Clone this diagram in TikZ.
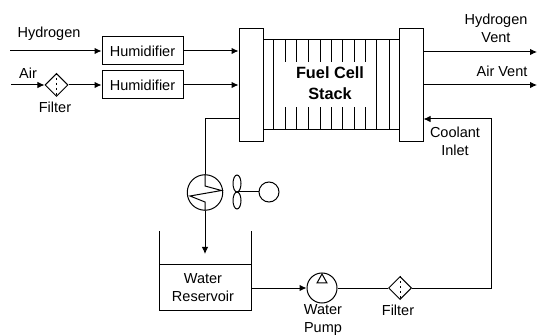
\documentclass[tikz,border=0pt]{standalone}
\usepackage{fontspec}
\setmainfont{Liberation Sans}
\usetikzlibrary{positioning}
\usetikzlibrary{shapes.geometric}
\usetikzlibrary{arrows.meta}
\tikzset{
	every node/.style = {font=\fontsize{14.5}{18}\selectfont, align=center, inner sep=0pt},
	boxnode/.style = {draw, rectangle, inner sep=0pt},
	flow/.style = {draw, -{Latex[length=7pt,width=6.5pt]}},
	pipe/.style = {draw},
	filternode/.style = {draw, diamond, minimum size=23pt, inner sep=0pt},
	filtermark/.style = {dash pattern=on 2pt off 3pt}
}

\begin{document}
\begin{tikzpicture}[x=1pt, y=-1pt, line width=1pt]
		\useasboundingbox (0,0) rectangle (540,336);
		% stack plates
		\node[boxnode, minimum width=24pt, minimum height=113pt] (plateL) at (251,85.5) {};
		\node[boxnode, minimum width=24pt, minimum height=113pt] (plateR) at (411,85.5) {};
		% stack body
		\draw (263,40) -- (399,40) (263,130) -- (399,130);
		\foreach \x in {273.5,376.5,389} {
			\draw (\x,40) -- (\x,130);
		}
		\foreach \x in {285,296.5,308,320,331,342.5,354,365.5} {
			\draw (\x,40) -- (\x,62) (\x,107.5) -- (\x,130);
		}
		\node[font=\fontsize{16.3}{21}\selectfont\bfseries] (stack) at (330,83.5) {Fuel Cell\\Stack};
		% inlets
		\node[boxnode, minimum width=81pt, minimum height=28pt] (humA) at (142.5,51) {Humidifier};
		\node[boxnode, minimum width=81pt, minimum height=28pt] (humB) at (142.5,85) {Humidifier};
		\node[filternode] (filterA) at (56.5,85) {};
		\draw[filtermark] (filterA.north) -- (filterA.south);
		\coordinate (inH) at (10,51);
		\coordinate (inA) at (11,85);
		\node (labH) at (49,33.5) {Hydrogen};
		\node (labA) at (28,73) {Air};
		\node (labF) at (55,107) {Filter};
		\draw[flow] (inH) -- (humA);
		\draw[flow] (inA) -- (filterA);
		\draw[flow] (filterA) -- (humB);
		\draw[flow] (humA) -- (humA -| plateL.west);
		\draw[flow] (humB) -- (humB -| plateL.west);
		% vents
		\coordinate (outH) at (537,52);
		\coordinate (outA) at (537,85);
		\draw[flow] (outH -| plateR.east) -- (outH);
		\draw[flow] (outA -| plateR.east) -- (outA);
		\node (labV) at (496,28) {Hydrogen\\Vent};
		\node (labAV) at (502,71) {Air Vent};
		\node (labC) at (455,141) {Coolant\\Inlet};
		% water loop
		\node[draw, circle, minimum size=35.5pt] (hx) at (205,192.5) {};
		\draw (hx.north) -- (205,186) -- (221.5,190.5) -- (190,196) -- (205,202) -- (hx.south);
		\node[draw, circle, minimum size=30pt] (pump) at (322,288) {};
		\draw (322,274) -- (317,283) -- (327,283) -- cycle;
		\node[filternode] (filterB) at (400,288) {};
		\draw[filtermark] (filterB.north) -- (filterB.south);
		\node[minimum width=92pt, minimum height=45pt] (tank) at (205,287.5) {};
		\node (labW) at (203,287.5) {Water\\Reservoir};
		\draw (159,231) -- (159,310) -- (251,310) -- (251,231);
		\draw (159,265) -- (251,265);
		\coordinate (drop) at (205,254);
		\coordinate (elbowL) at (205,119);
		\coordinate (elbowR) at (491,119);
		\draw[pipe] (elbowL -| plateL.west) -- (elbowL) -- (hx);
		\draw[flow] (hx) -- (drop);
		\draw[flow] (tank.east |- pump) -- (pump);
		\draw[pipe] (pump) -- (filterB);
		\draw[flow] (filterB) -| (elbowR) -- (elbowR -| plateR.east);
		\node (labP) at (323,320.5) {Water\\Pump};
		\node (labFB) at (398,310) {Filter};
		% fan
		\node[draw, ellipse, minimum width=8pt, minimum height=17pt] (bladeA) at (237,183.5) {};
		\node[draw, ellipse, minimum width=8pt, minimum height=17pt] (bladeB) at (237,200.5) {};
		\node[draw, circle, minimum size=20pt] (motor) at (269,192) {};
		\draw (237,192) -- (motor);
	\end{tikzpicture}
\end{document}
